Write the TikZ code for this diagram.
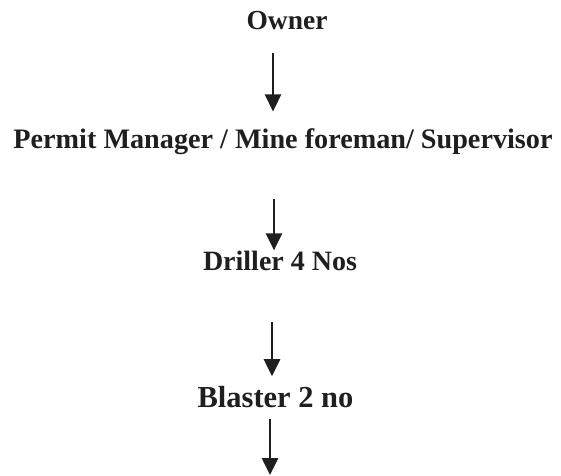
\documentclass[tikz,border=0pt]{standalone}
\usepackage{fontspec}
\setmainfont{Liberation Serif}
\usetikzlibrary{arrows.meta}

\definecolor{InkGray}{rgb}{0.12,0.12,0.12}

\begin{document}
\begin{tikzpicture}[x=1pt,y=-1pt,
    post/.style={anchor=base,inner sep=0pt,text=InkGray,font=\bfseries},
    down/.style={draw=InkGray,line width=2.6pt,-{Triangle[width=16pt,length=17pt]}}]
  \useasboundingbox (0,0) rectangle (561,475);

  \node (owner) [post] at (287,29) {\fontsize{27.5}{30}\selectfont Owner};
  \node (permit) [post] at (283,148) {\fontsize{28.2}{31}\selectfont Permit Manager / Mine foreman/ Supervisor};
  \node (driller) [post] at (280,270) {\fontsize{28}{31}\selectfont Driller 4 Nos};
  \node (blaster) [post] at (275.5,407) {\fontsize{30.5}{33}\selectfont Blaster 2 no};
  \coordinate (bottom) at (270,475);

  \draw[down,shorten <=24pt,shorten >=16.5pt] (owner.south -| 273,0) -- (permit.north -| 273,0);
  \draw[down,shorten <=45pt,shorten >=0pt] (permit.south -| 274,0) -- (driller.north -| 274,0);
  \draw[down,shorten <=52pt,shorten >=9.4pt] (driller.south -| 272,0) -- (blaster.north -| 272,0);
  \draw[down,shorten <=11pt] (blaster.south -| 270,0) -- (bottom);
\end{tikzpicture}
\end{document}
